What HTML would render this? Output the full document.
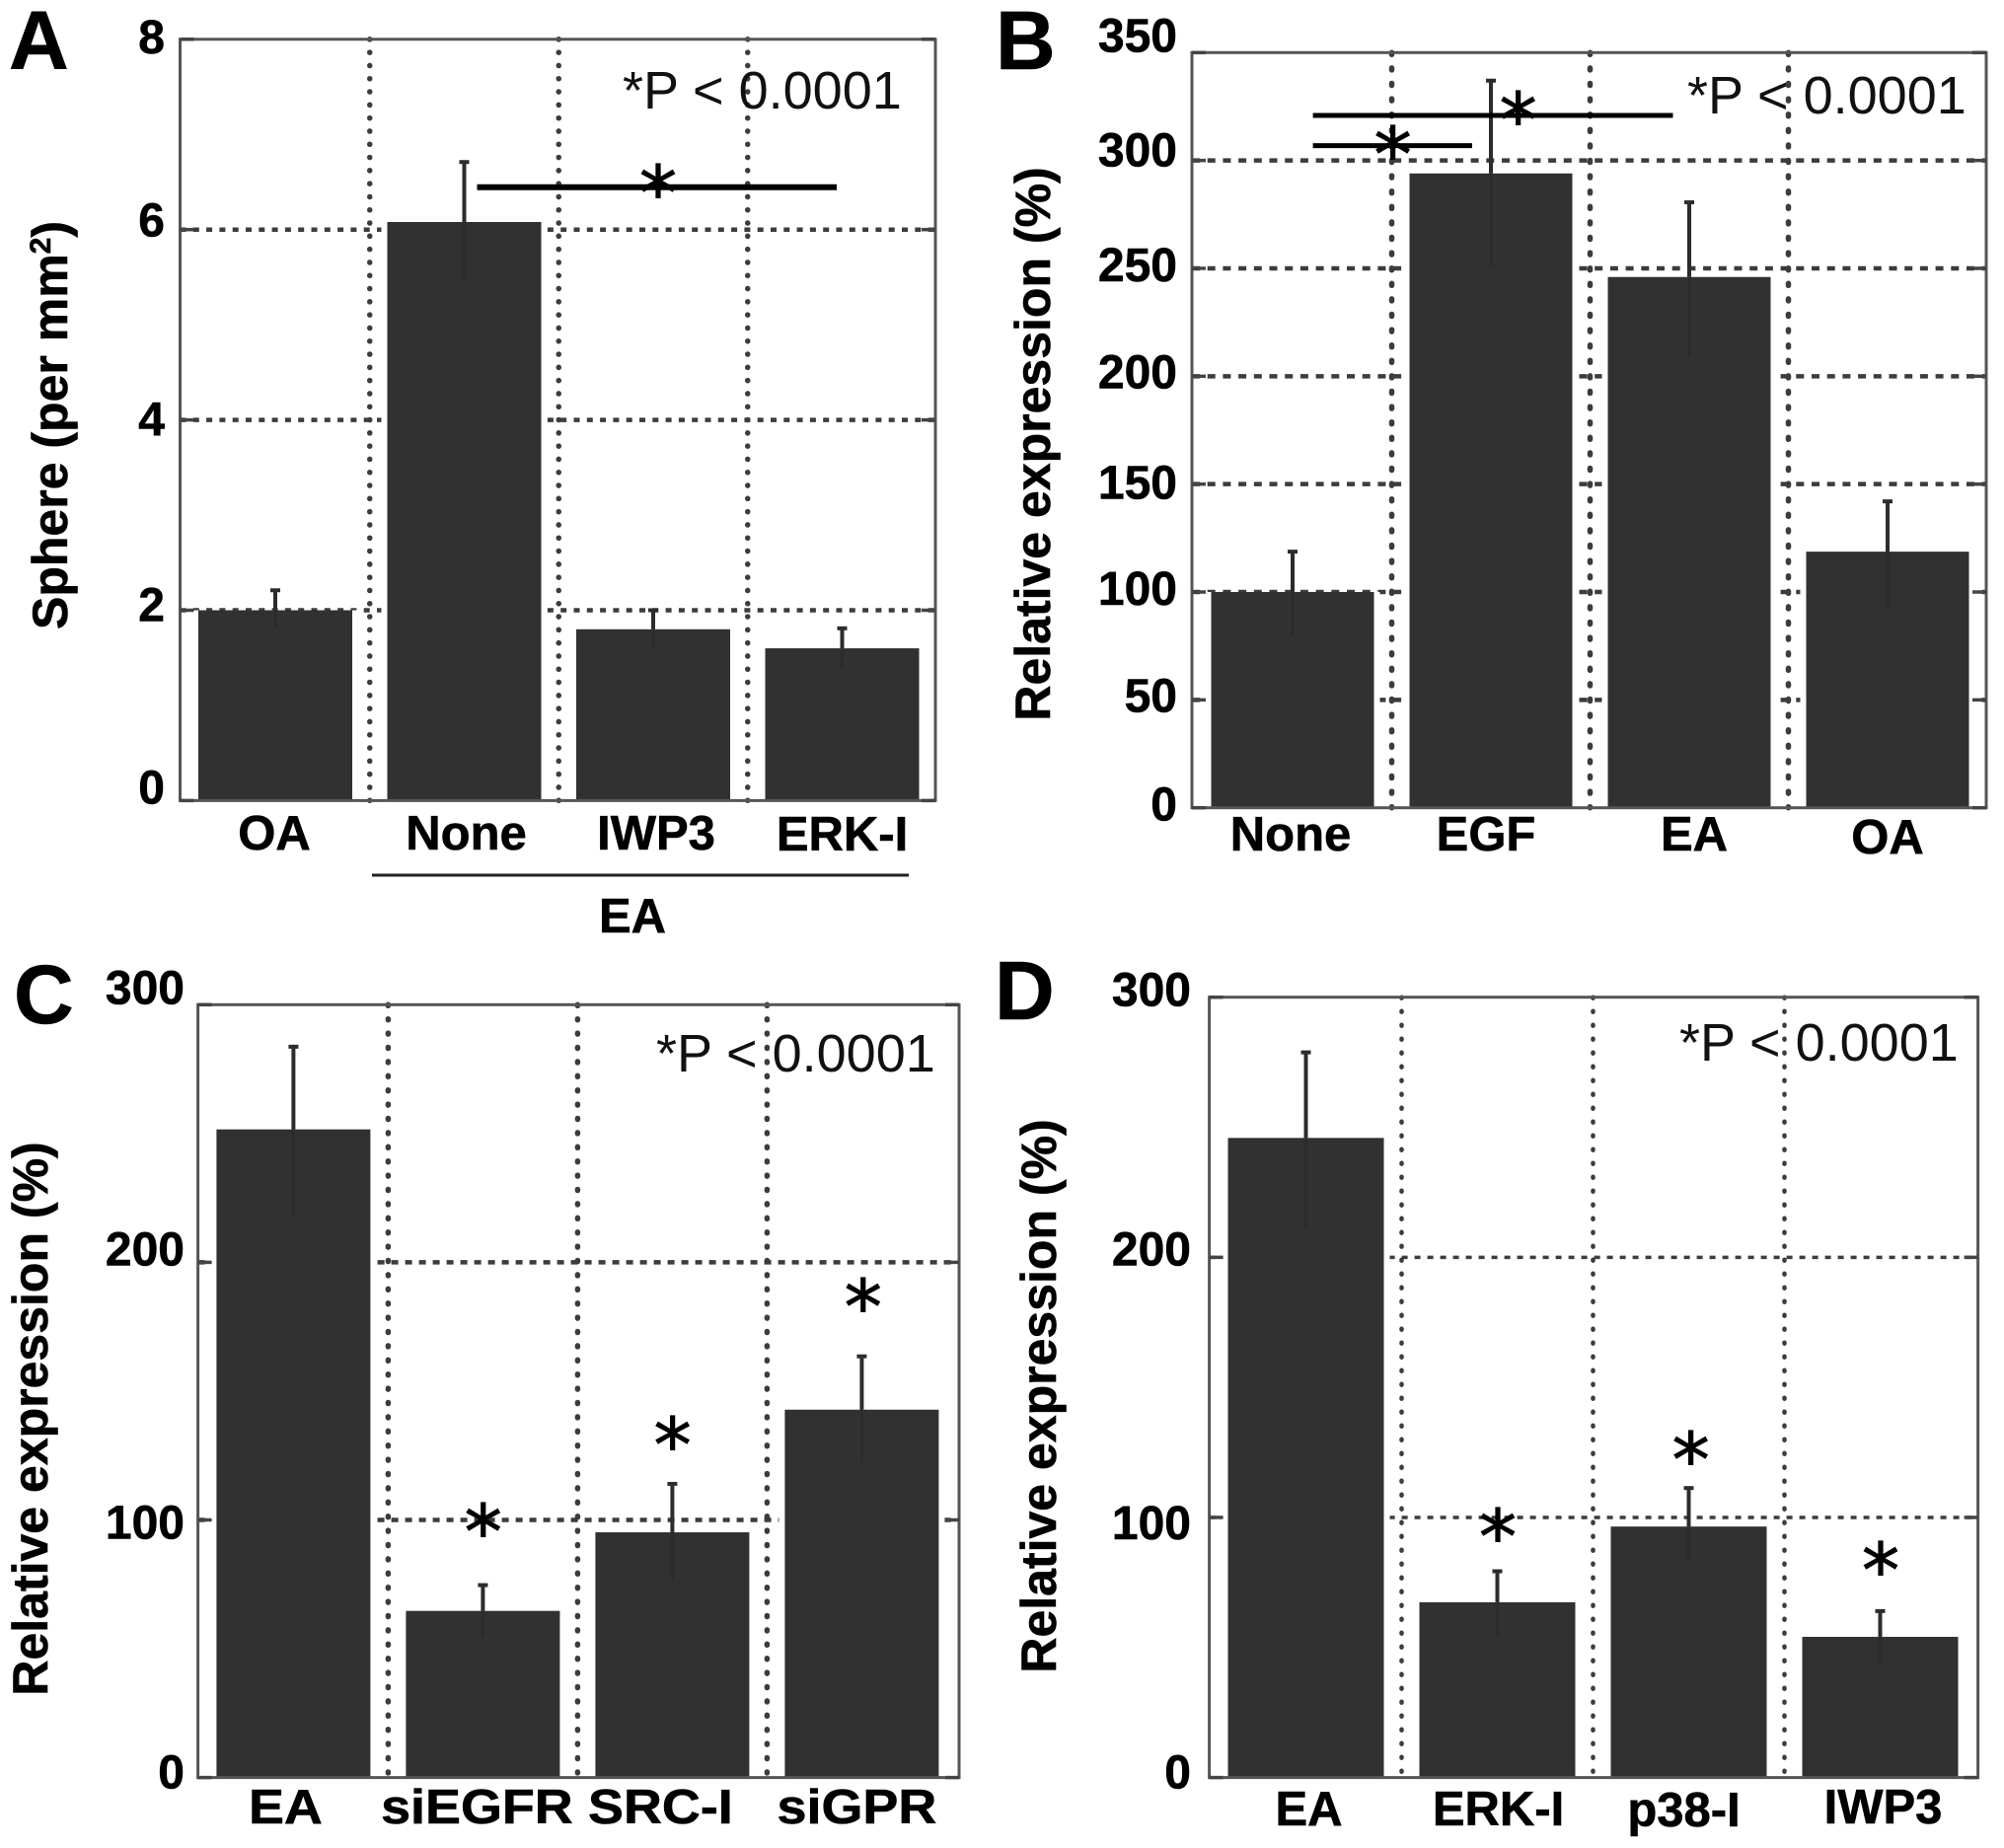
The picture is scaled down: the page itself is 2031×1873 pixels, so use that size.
<!DOCTYPE html>
<html lang="en">
<head>
<meta charset="utf-8">
<title>Four-panel bar charts</title>
<style>
  html, body { margin: 0; padding: 0; background: #fff; }
  #figure { display: block; width: 2031px; height: 1873px; }
  text { font-family: "Liberation Sans", sans-serif; }
  .bold { font-weight: 700; fill: #000; stroke: #000; stroke-width: 0.6px; }
</style>
</head>
<body>
<svg id="figure" xmlns="http://www.w3.org/2000/svg" width="2031" height="1873" viewBox="0 0 2031 1873"></svg>
<script>
// ---- Panel A data ----
const panelACategories = ['OA', 'None', 'IWP3', 'ERK-I'];
const panelAValues = [2, 6.08, 1.8, 1.6];
const panelAErrorHigh = [2.21, 6.71, 2.0, 1.81];
const panelAErrorLow = [1.81, 5.49, 1.59, 1.4];
const panelATicks = [0, 2, 4, 6, 8];

// ---- Panel B data ----
const panelBCategories = ['None', 'EGF', 'EA', 'OA'];
const panelBValues = [100, 294, 246, 118.7];
const panelBErrorHigh = [118.7, 337, 280.6, 142];
const panelBErrorLow = [80, 251, 209, 93.5];
const panelBTicks = [0, 50, 100, 150, 200, 250, 300, 350];

// ---- Panel C data ----
const panelCCategories = ['EA', 'siEGFR', 'SRC-I', 'siGPR'];
const panelCValues = [251.6, 64.7, 95.2, 142.8];
const panelCErrorHigh = [283.7, 74.7, 114, 163.5];
const panelCErrorLow = [217.5, 54.6, 77, 122];
const panelCTicks = [0, 100, 200, 300];

// ---- Panel D data ----
const panelDCategories = ['EA', 'ERK-I', 'p38-I', 'IWP3'];
const panelDValues = [245.9, 67.4, 96.5, 54.1];
const panelDErrorHigh = [278.8, 79.3, 111.3, 64];
const panelDErrorLow = [212, 54.8, 83.3, 43.5];
const panelDTicks = [0, 100, 200, 300];

// ---- Layout (geometry only) ----
const panels = [
  { id: 'a', letter: 'A', letterX: 9, letterY: 70,
    cats: panelACategories, vals: panelAValues, hi: panelAErrorHigh, lo: panelAErrorLow, ticks: panelATicks,
    left: 182.5, right: 948, top: 39.8, bottom: 811.4, max: 8,
    c0: 279, step: 191.5, barW: 156, dash: '0.1 13.2', hDash: '6 7.3', sw: 5.5,
    tickRight: 167, tickNudge: [3, 11, 16, 7, 14],
    labelY: 861, labelNudgeX: [-1, 2, 3, 0], labelNudgeY: [0, 0, 0, 1], labelScale: 1,
    titleX: 68, titleY: 431, pX: 631, pY: 110 },
  { id: 'b', letter: 'B', letterX: 1009, letterY: 70,
    cats: panelBCategories, vals: panelBValues, hi: panelBErrorHigh, lo: panelBErrorLow, ticks: panelBTicks,
    left: 1208, right: 2013, top: 53.3, bottom: 818.7, max: 350,
    c0: 1310, step: 201, barW: 165, dash: '2 13.6', hDash: '8 7.7', sw: 5.5,
    tickRight: 1193, tickNudge: [13, 12, 13, 15, 12, 13, 6, -1],
    labelY: 862, labelNudgeX: [-2, -5, 5, 0], labelNudgeY: [0, 0, 0, 3], labelScale: 1,
    titleX: 1064, titleY: 450, pX: 1710, pY: 115 },
  { id: 'c', letter: 'C', letterX: 14, letterY: 1037,
    cats: panelCCategories, vals: panelCValues, hi: panelCErrorHigh, lo: panelCErrorLow, ticks: panelCTicks,
    left: 200.6, right: 972, top: 1018.3, bottom: 1801.6, max: 300,
    c0: 297.4, step: 192, barW: 156, dash: '1 13.4', hDash: '7 7', sw: 5.5,
    tickRight: 187, tickNudge: [11, 19, 3, -1],
    labelY: 1848, labelNudgeX: [-8, -6, -12, -5], labelNudgeY: [0, 0, 0, 0], labelScale: 1.1,
    titleX: 48, titleY: 1438, pX: 665, pY: 1086 },
  { id: 'd', letter: 'D', letterX: 1008, letterY: 1033,
    cats: panelDCategories, vals: panelDValues, hi: panelDErrorHigh, lo: panelDErrorLow, ticks: panelDTicks,
    left: 1225.6, right: 2004.6, top: 1010.7, bottom: 1801.6, max: 300,
    c0: 1323.5, step: 194, barW: 158, dash: '1 13', hDash: '6 7', sw: 4.5,
    tickRight: 1207, tickNudge: [11, 22, 8, 9],
    labelY: 1850, labelNudgeX: [3, 1, -5, 3], labelNudgeY: [0, 0, 1, -2], labelScale: 1,
    titleX: 1070, titleY: 1415, pX: 1702, pY: 1075 }
];

// Annotation anchors (pixel geometry, not data)
const sigLines = [
  { x1: 483.5, x2: 848, y: 189.8, w: 6, name: 'significance-line-a' },
  { x1: 1330.6, x2: 1695.5, y: 117, w: 5, name: 'significance-line-b-upper' },
  { x1: 1330.6, x2: 1492, y: 147.6, w: 5, name: 'significance-line-b-lower' }
];
const stars = [
  { x: 667, y: 184, name: 'asterisk-a' },
  { x: 1538.6, y: 110, name: 'asterisk-b-upper' },
  { x: 1411.6, y: 145, name: 'asterisk-b-lower' },
  { x: 489.7, y: 1541, name: 'asterisk-c-siegfr' },
  { x: 681.6, y: 1453, name: 'asterisk-c-src' },
  { x: 874.8, y: 1313, name: 'asterisk-c-sigpr' },
  { x: 1518, y: 1546, name: 'asterisk-d-erk' },
  { x: 1713.6, y: 1468, name: 'asterisk-d-p38' },
  { x: 1906, y: 1580, name: 'asterisk-d-iwp3' }
];

const NS = 'http://www.w3.org/2000/svg';
const root = document.getElementById('figure');

function svgEl(tag, attrs, parent) {
  const el = document.createElementNS(NS, tag);
  for (const k in attrs) el.setAttribute(k, attrs[k]);
  (parent || root).appendChild(el);
  return el;
}

function drawPanel(p) {
  const g = svgEl('g', {});
  
  

  const yScale = function (v) { return p.bottom - (v / p.max) * (p.bottom - p.top); };
  const xCenter = function (i) { return p.c0 + p.step * i; };

  // Horizontal gridlines
  p.ticks.forEach(function (t) {
    if (t === 0 || t === p.max) return;
    const y = yScale(t);
    const line = svgEl('line', { x1: p.left, x2: p.right, y1: y, y2: y, stroke: '#3c3c3c', 'stroke-width': p.sw - 1, 'stroke-dasharray': p.hDash }, g);
    
    
  });

  // Vertical gridlines
  for (let i = 0; i < p.cats.length - 1; i++) {
    const x = xCenter(i + 0.5);
    const line = svgEl('line', { x1: x, x2: x, y1: p.top, y2: p.bottom, stroke: '#3c3c3c', 'stroke-width': p.sw, 'stroke-linecap': 'round', 'stroke-dasharray': p.dash }, g);
    
    
  }

  // Bars and error bars
  p.cats.forEach(function (cat, i) {
    const cx = xCenter(i);
    const top = yScale(p.vals[i]);

    // White halo between bar sides and dotted lines near the bar
    const halo = svgEl('rect', { x: cx - p.barW / 2 - 6, y: top, width: p.barW + 12, height: p.bottom - top, fill: '#fff' }, g);
    
    

    const bar = svgEl('rect', { x: cx - p.barW / 2, y: top, width: p.barW, height: p.bottom - top, fill: '#313131' }, g);
    
    

    const upper = svgEl('line', { x1: cx, x2: cx, y1: yScale(p.hi[i]), y2: top, stroke: '#2c2c2c', 'stroke-width': 4 }, g);
    
    

    const lower = svgEl('line', { x1: cx, x2: cx, y1: top, y2: yScale(p.lo[i]), stroke: '#2b2b2b', 'stroke-width': 3 }, g);
    
    

    const cap = svgEl('line', { x1: cx - 5, x2: cx + 5, y1: yScale(p.hi[i]), y2: yScale(p.hi[i]), stroke: '#2c2c2c', 'stroke-width': 4 }, g);
    
    

    const lx = cx + p.labelNudgeX[i];
    const ly = p.labelY + p.labelNudgeY[i];
    const label = svgEl('text', { 'class': 'bold', 'font-size': 49, 'text-anchor': 'middle', transform: 'translate(' + lx + ',' + ly + ') scale(' + p.labelScale + ',1)' }, g);
    label.textContent = cat;
    
    
  });

  // Plot frame
  const frame = svgEl('rect', { x: p.left, y: p.top, width: p.right - p.left, height: p.bottom - p.top, fill: 'none', stroke: '#555', 'stroke-width': 3 }, g);
  
  

  // Solid inward tick stubs and Y tick labels
  p.ticks.forEach(function (t, i) {
    const y = yScale(t);
    const stubL = svgEl('line', { x1: p.left, x2: p.left + 14, y1: y, y2: y, stroke: '#444', 'stroke-width': 3.5 }, g);
    
    

    const stubR = svgEl('line', { x1: p.right - 14, x2: p.right, y1: y, y2: y, stroke: '#444', 'stroke-width': 3.5 }, g);
    
    

    const label = svgEl('text', { 'class': 'bold', 'font-size': 48, 'text-anchor': 'end', x: p.tickRight, y: y + p.tickNudge[i] }, g);
    label.textContent = String(t);
    
    
  });

  // Y axis title
  const title = svgEl('text', { 'class': 'bold', 'font-size': 50, 'text-anchor': 'middle', transform: 'translate(' + p.titleX + ',' + p.titleY + ') rotate(-90)' }, g);
  
  
  if (p.id === 'a') {
    title.appendChild(document.createTextNode('Sphere (per mm'));
    const sup = svgEl('tspan', { dy: -17, 'font-size': 30 }, title);
    sup.textContent = '2';
    
    
    const close = svgEl('tspan', { dy: 17 }, title);
    close.textContent = ')';
    
    
  } else {
    title.textContent = 'Relative expression (%)';
  }

  // P-value note
  const note = svgEl('text', { 'font-size': 54, fill: '#111', x: p.pX, y: p.pY }, g);
  note.textContent = '*P < 0.0001';
  
  

  // Panel letter
  const letter = svgEl('text', { 'class': 'bold', 'font-size': 84, x: p.letterX, y: p.letterY }, g);
  letter.textContent = p.letter;
  
  
}

panels.forEach(drawPanel);

// Significance lines
sigLines.forEach(function (s) {
  const line = svgEl('line', { x1: s.x1, x2: s.x2, y1: s.y, y2: s.y, stroke: '#000', 'stroke-width': s.w });
  
  
});

// Asterisks
stars.forEach(function (s) {
  const star = svgEl('text', { x: s.x, y: s.y + 38, 'font-size': 76, 'text-anchor': 'middle', fill: '#000', stroke: '#000', 'stroke-width': 1, style: 'font-family:"DejaVu Sans",sans-serif' });
  star.textContent = '*';
  
  
});

// EA group bracket under panel A
const groupLine = svgEl('line', { x1: 377, x2: 921, y1: 887, y2: 887, stroke: '#222', 'stroke-width': 3 });



const groupLabel = svgEl('text', { 'class': 'bold', 'font-size': 49, 'text-anchor': 'middle', x: 641, y: 945 });
groupLabel.textContent = 'EA';


</script>
</body>
</html>
